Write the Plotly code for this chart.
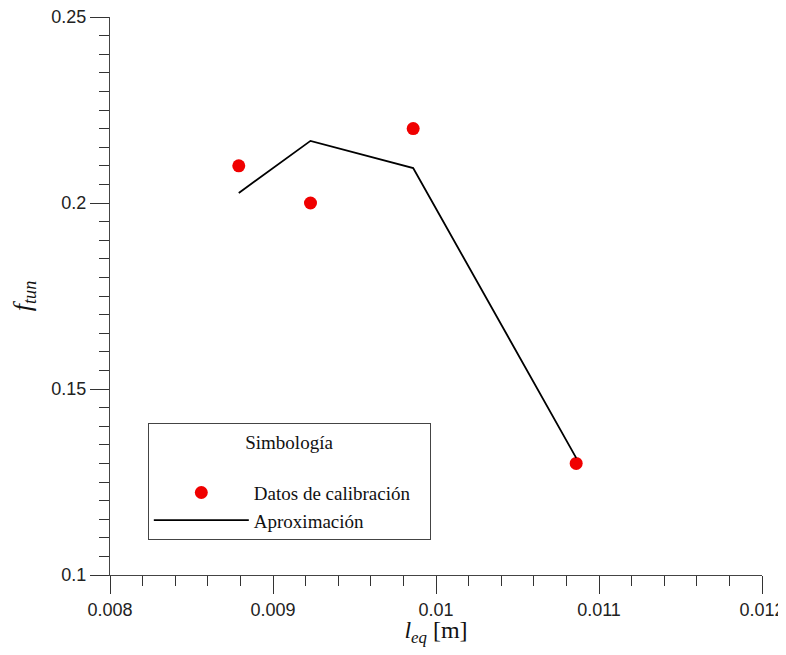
import plotly.graph_objects as go

# Calibration data (points)
leq_data = [0.00879, 0.00923, 0.00986, 0.01086]
ftun_data = [0.21, 0.20, 0.22, 0.13]

# Approximation (line)
leq_fit = [0.00879, 0.00923, 0.00986, 0.01086]
ftun_fit = [0.2027, 0.2167, 0.2094, 0.1315]

x_tickvals = [0.008, 0.009, 0.010, 0.011, 0.012]
x_ticktext = ["0.008", "0.009", "0.01", "0.011", "0.012"]
y_tickvals = [0.10, 0.15, 0.20, 0.25]
y_ticktext = ["0.1", "0.15", "0.2", "0.25"]

SERIF = "Liberation Serif, Times New Roman, serif"
SANS = "Liberation Sans, Arial, sans-serif"

fig = go.Figure()
fig.add_trace(go.Scatter(
    x=leq_data, y=ftun_data, mode="markers", name="Datos de calibración\u00a0\u00a0\u00a0",
    marker=dict(color="#f00000", size=13, line=dict(width=0)),
))
fig.add_trace(go.Scatter(
    x=leq_fit, y=ftun_fit, mode="lines", name="Aproximación",
    line=dict(color="black", width=1.8),
))

axis_common = dict(
    showgrid=False, zeroline=False, showline=True, linecolor="#444", linewidth=1.2,
    ticks="outside", tickcolor="#333", tickwidth=1.2,
    tickfont=dict(family=SANS, size=18, color="#222"),
    mirror=False, automargin=False, ticklabeloverflow="allow",
)

fig.update_xaxes(
    range=[0.008, 0.012], tickmode="array", tickvals=x_tickvals, ticktext=x_ticktext,
    ticklen=18,
    minor=dict(dtick=0.0002, ticklen=10, tickcolor="#333", tickwidth=1.2, ticks="outside"),
    title=dict(text="<i>l</i><sub><i>eq</i></sub> [m]",
               font=dict(family=SERIF, size=24, color="#111"),
               standoff=2),
    **axis_common,
)
fig.update_yaxes(
    range=[0.1, 0.25], tickmode="array", tickvals=y_tickvals, ticktext=y_ticktext,
    ticklen=19,
    minor=dict(dtick=0.005, ticklen=10, tickcolor="#333", tickwidth=1.2, ticks="outside"),
    title=dict(text="<i>f</i><sub><i>tun</i></sub>",
               font=dict(family=SERIF, size=26, color="#111"),
               standoff=16),
    **axis_common,
)

fig.update_layout(
    width=778, height=639,
    margin=dict(l=102, r=24, t=9, b=72),
    plot_bgcolor="white", paper_bgcolor="white",
    showlegend=True,
    legend=dict(
        x=0.058, y=0.272, xanchor="left", yanchor="top",
        bgcolor="white", bordercolor="#444", borderwidth=1,
        font=dict(family=SERIF, size=19, color="#111"),
        title=dict(text="Simbología<br> ", side="top center",
                   font=dict(family=SERIF, size=19, color="#111")),
        itemwidth=95, tracegroupgap=0,
    ),
)

fig.write_html("out.html", config={"responsive": False})
